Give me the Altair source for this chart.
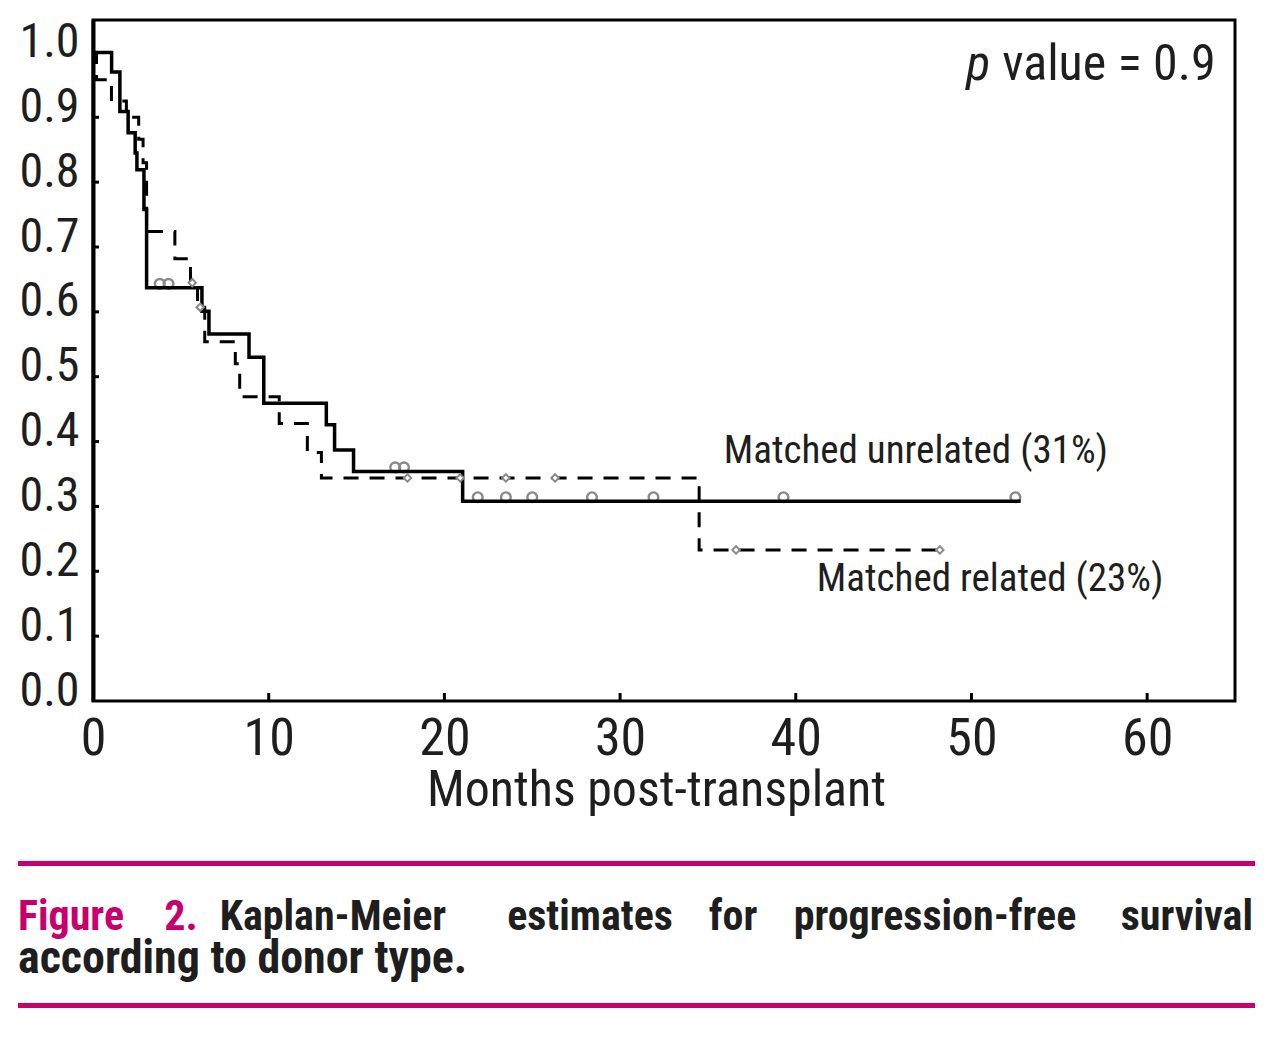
import altair as alt
import pandas as pd

# ---------------- data ----------------
# Matched unrelated donors (solid line): step times (months) and survival after each step
unrel_time = [0, 1.06, 1.53, 2.0, 2.4, 2.5, 2.9, 3.05, 6.2, 6.6, 8.88, 9.72, 13.28, 13.75, 14.83, 21.04, 52.8]
unrel_surv = [1.0, 0.970, 0.909, 0.876, 0.845, 0.819, 0.758, 0.637, 0.601, 0.566, 0.530, 0.459, 0.426, 0.387, 0.354, 0.308, 0.308]
unrel_censor = [3.8, 4.3, 17.2, 17.7, 21.9, 23.5, 25.0, 28.4, 31.9, 39.3, 52.5]

# Matched related donors (dashed line)
rel_time = [0, 0.2, 1.05, 1.9, 2.6, 2.85, 3.05, 4.66, 5.55, 5.95, 6.36, 8.1, 8.35, 10.6, 12.2, 13.0, 34.5, 48.2]
rel_surv = [1.0, 0.958, 0.925, 0.900, 0.866, 0.830, 0.724, 0.682, 0.645, 0.607, 0.554, 0.520, 0.469, 0.428, 0.383, 0.344, 0.233, 0.233]
rel_censor = [5.65, 6.1, 17.9, 20.9, 23.5, 26.3, 36.6, 48.2]

x_ticks = [0, 10, 20, 30, 40, 50, 60]
y_ticks = [0.0, 0.1, 0.2, 0.3, 0.4, 0.5, 0.6, 0.7, 0.8, 0.9, 1.0]

label_unrel = "Matched unrelated (31%)"
label_rel = "Matched related (23%)"
p_text_italic = "p"
p_text_rest = "value = 0.9"
x_title = "Months post-transplant"

caption_prefix = ["Figure", "2."]
caption_line1 = ["Kaplan-Meier", "estimates", "for", "progression-free", "survival"]
caption_line2 = "according to donor type."

# ---------------- helpers ----------------
def surv_at(times, survs, t):
    s = survs[0]
    for ti, si in zip(times, survs):
        if ti <= t:
            s = si
    return s

NARROW = "Liberation Sans Narrow, Roboto Condensed, DejaVu Sans Condensed, Arial Narrow, sans-serif"
INK = "#1e1e1e"
MAGENTA = "#c8006e"
GRAY = "#8a8a8a"

W, H = 1142, 681

xscale = alt.Scale(domain=[0, 65], nice=False, zero=False)
yscale = alt.Scale(domain=[0, 1.05], nice=False, zero=False)

xaxis = alt.Axis(values=x_ticks, format="d", labelFontSize=52, labelFont=NARROW, labelColor=INK,
                 ticks=False, domain=False, grid=False, labelFlush=False, labelPadding=12,
                 title=x_title, titleFontSize=50, titleFont=NARROW, titleFontWeight="normal",
                 titleColor=INK, titleX=563, titleY=104, titleBaseline="alphabetic", titleAlign="center")
yaxis = alt.Axis(values=y_ticks, format=".1f", labelFontSize=48, labelFont=NARROW, labelColor=INK,
                 ticks=False, domain=True, domainColor="black", domainWidth=4, grid=False,
                 labelFlush=False, labelPadding=14, labelOffset=-10)

X = alt.X("t:Q", scale=xscale, axis=xaxis)
Y = alt.Y("s:Q", scale=yscale, axis=yaxis, title=None)

unrel_df = pd.DataFrame({"t": unrel_time, "s": unrel_surv})
rel_df = pd.DataFrame({"t": rel_time, "s": rel_surv})
unrel_c_df = pd.DataFrame({"t": unrel_censor, "s": [surv_at(unrel_time, unrel_surv, t) for t in unrel_censor]})
rel_c_df = pd.DataFrame({"t": rel_censor, "s": [surv_at(rel_time, rel_surv, t) for t in rel_censor]})

unrel_censor_layer = alt.Chart(unrel_c_df).mark_point(
    shape="circle", size=95, filled=False, stroke=GRAY, strokeWidth=2.4, yOffset=-4, opacity=1
).encode(x=X, y=Y)

rel_line = alt.Chart(rel_df).mark_line(
    interpolate="step-after", color="black", strokeWidth=3, strokeDash=[15, 11]
).encode(x=X, y=Y)

unrel_line = alt.Chart(unrel_df).mark_line(
    interpolate="step-after", color="black", strokeWidth=3.5
).encode(x=X, y=Y)

rel_censor_layer = alt.Chart(rel_c_df).mark_point(
    shape="diamond", size=55, filled=True, fill="white", stroke=GRAY, strokeWidth=2, opacity=1
).encode(x=X, y=Y)

xt_df = pd.DataFrame({"t": x_ticks[1:]})
x_tick_layer = alt.Chart(xt_df).mark_rule(color="black", strokeWidth=3).encode(
    x=X, y=alt.value(H), y2=alt.value(H - 8))

yt_df = pd.DataFrame({"s": y_ticks[1:]})
y_tick_layer = alt.Chart(yt_df).mark_rule(color="black", strokeWidth=3).encode(
    y=Y, x=alt.value(0), x2=alt.value(6))

ann_unrel = alt.Chart(pd.DataFrame({"t": [35.9], "s": [0.367], "label": [label_unrel]})).mark_text(
    align="left", baseline="alphabetic", font=NARROW, fontSize=39, color=INK
).encode(x=X, y=Y, text="label:N")

ann_rel = alt.Chart(pd.DataFrame({"t": [41.2], "s": [0.170], "label": [label_rel]})).mark_text(
    align="left", baseline="alphabetic", font=NARROW, fontSize=39, color=INK
).encode(x=X, y=Y, text="label:N")

p_it = alt.Chart(pd.DataFrame({"t": [49.7], "s": [0.958], "label": [p_text_italic]})).mark_text(
    align="left", baseline="alphabetic", font=NARROW, fontSize=50, fontStyle="italic", color=INK
).encode(x=X, y=Y, text="label:N")

p_rest = alt.Chart(pd.DataFrame({"t": [63.9], "s": [0.958], "label": [p_text_rest]})).mark_text(
    align="right", baseline="alphabetic", font=NARROW, fontSize=50, color=INK
).encode(x=X, y=Y, text="label:N")

# ---------------- caption (layout relative to plot origin) ----------------
one = pd.DataFrame({"k": [0]})
cap_layers = []
for yy in [843.5, 985.5]:
    cap_layers.append(alt.Chart(one).mark_rule(color=MAGENTA, strokeWidth=5).encode(
        x=alt.value(-75), x2=alt.value(1162), y=alt.value(yy)))

CAP_SIZE = 42
prefix_pos = [(-75, "left"), (88, "center")]
for word, (px, al) in zip(caption_prefix, prefix_pos):
    cap_layers.append(alt.Chart(one).mark_text(
        text=word, align=al, baseline="alphabetic", font=NARROW, fontSize=CAP_SIZE,
        fontWeight="bold", color=MAGENTA
    ).encode(x=alt.value(px), y=alt.value(910)))

line1_pos = [(240, "center"), (497, "center"), (640, "center"), (842, "center"), (1160, "right")]
for word, (px, al) in zip(caption_line1, line1_pos):
    cap_layers.append(alt.Chart(one).mark_text(
        text=word, align=al, baseline="alphabetic", font=NARROW, fontSize=CAP_SIZE,
        fontWeight="bold", color=INK
    ).encode(x=alt.value(px), y=alt.value(910)))

cap_layers.append(alt.Chart(one).mark_text(
    text=caption_line2, align="left", baseline="alphabetic", font=NARROW, fontSize=46,
    fontWeight="bold", color=INK
).encode(x=alt.value(-75), y=alt.value(953)))

chart = alt.layer(
    unrel_censor_layer, rel_line, unrel_line, rel_censor_layer,
    x_tick_layer, y_tick_layer, ann_unrel, ann_rel, p_it, p_rest, *cap_layers
).properties(
    width=W, height=H,
    autosize=alt.AutoSizeParams(type="none"),
    padding={"left": 85, "top": 12, "right": 37, "bottom": 315},
    background="white",
).configure_view(stroke="black", strokeWidth=3)

chart.save("out.html", embed_options={"renderer": "svg", "actions": False})
